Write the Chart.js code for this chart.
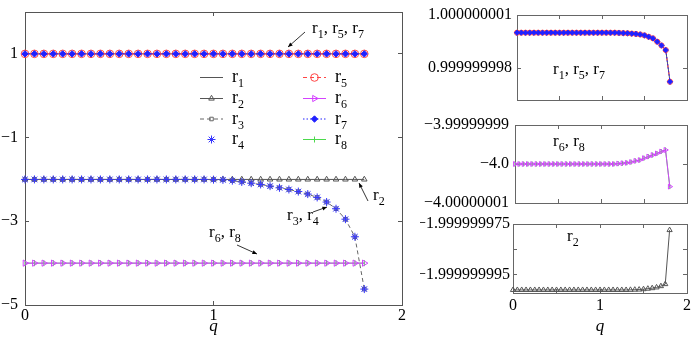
<!DOCTYPE html>
<html>
<head>
<meta charset="utf-8">
<title>r-curves vs q</title>
<script src="https://cdn.jsdelivr.net/npm/chart.js@4.4.1/dist/chart.umd.min.js"></script>
<style>
  html, body { margin: 0; padding: 0; background: #fff; }
  #wrap { position: relative; width: 692px; height: 340px; overflow: hidden; }
  .panel { position: absolute; }
</style>
</head>
<body>
<div id="wrap">
  <div class="panel" style="left:0;top:0;width:420px;height:340px"><canvas id="mainChart"></canvas></div>
  <div class="panel" style="left:420px;top:0;width:272px;height:110px"><canvas id="zoomTop"></canvas></div>
  <div class="panel" style="left:420px;top:110px;width:272px;height:110px"><canvas id="zoomMid"></canvas></div>
  <div class="panel" style="left:420px;top:210px;width:272px;height:130px"><canvas id="zoomLow"></canvas></div>
</div>
<script>
// ---- data ----
const qValues = [
  0, 0.05, 0.1, 0.15, 0.2, 0.25, 0.3, 0.35, 0.4, 0.45,
  0.5, 0.55, 0.6, 0.65, 0.7, 0.75, 0.8, 0.85, 0.9, 0.95,
  1, 1.05, 1.1, 1.15, 1.2, 1.25, 1.3, 1.35, 1.4, 1.45,
  1.5, 1.55, 1.6, 1.65, 1.7, 1.75, 1.8
];

// main panel
const r1Values = [
  1, 1, 1, 1, 1, 1, 1, 1, 1, 1,
  1, 1, 1, 1, 1, 1, 1, 1, 1, 1,
  1, 1, 1, 1, 1, 1, 1, 1, 1, 1,
  1, 1, 1, 1, 1, 1, 1
];
const r5Values = r1Values;
const r7Values = r1Values;
const r2Values = [
  -2, -2, -2, -2, -2, -2, -2, -2, -2, -2,
  -2, -2, -2, -2, -2, -2, -2, -2, -2, -2,
  -2, -2, -2, -2, -2, -2, -2, -2, -2, -2,
  -2, -2, -2, -2, -2, -2, -2
];
const r3Values = [
  -2, -2, -2, -2, -2, -2, -2, -2, -2, -2,
  -2, -2, -2, -2, -2, -2, -2, -2, -2, -2,
  -2.005, -2.01, -2.03, -2.06, -2.09, -2.12, -2.16, -2.2, -2.24, -2.29,
  -2.35, -2.43, -2.54, -2.7, -2.95, -3.37, -4.62
];
const r4Values = r3Values;
const r6Values = [
  -4, -4, -4, -4, -4, -4, -4, -4, -4, -4,
  -4, -4, -4, -4, -4, -4, -4, -4, -4, -4,
  -4, -4, -4, -4, -4, -4, -4, -4, -4, -4,
  -4, -4, -4, -4, -4, -4, -4
];
const r8Values = r6Values;

// zoomed panels
const r1Zoom = [
  1, 1, 1, 1, 1, 1, 1, 1, 1, 1,
  1, 1, 1, 1, 1, 1, 1, 1, 1, 1,
  1, 1, 1, 1, 0.99999999999, 0.99999999998, 0.99999999997, 0.99999999995, 0.99999999993, 0.9999999999,
  0.99999999985, 0.99999999977, 0.99999999968, 0.99999999949, 0.99999999928, 0.99999999902, 0.99999999723
];
const r6Zoom = [
  -4, -4, -4, -4, -4, -4, -4, -4, -4, -4,
  -4, -4, -4, -4, -4, -4, -4, -4, -4, -4,
  -4, -4, -4, -4, -3.9999999999, -3.9999999998, -3.9999999997, -3.9999999995, -3.9999999992, -3.999999999,
  -3.9999999985, -3.9999999981, -3.9999999977, -3.9999999973, -3.9999999968, -3.9999999964, -4.0000000058
];
const r2Zoom = [
  -2.000000001, -2.000000001, -2.000000001, -2.000000001, -2.000000001, -2.000000001, -2.000000001, -2.000000001, -2.000000001, -2.000000001,
  -2.000000001, -2.000000001, -2.000000001, -2.000000001, -2.000000001, -2.000000001, -2.000000001, -2.000000001, -2.000000001, -2.000000001,
  -2.000000001, -2.000000001, -2.000000001, -2.000000001, -2.000000001, -2.000000001, -2.000000001, -2.00000000095, -2.0000000009, -2.00000000085,
  -2.0000000007, -2.0000000005, -2.0000000003, -2, -1.9999999995, -1.9999999987, -1.9999999774
];

// ticks
const xTicksMain = [0, 1, 2];
const xLabelsMain = ['0', '1', '2'];
const yTicksMain = [1, -1, -3, -5];
const yLabelsMain = ['1', '\u22121', '\u22123', '\u22125'];
const xTicksZoom = [0, 0.5, 1, 1.5, 2];
const xLabelsZoom = ['0', '', '1', '', '2'];
const yTicksTop = [1.000000001, 0.999999998];
const yLabelsTop = ['1.000000001', '0.999999998'];
const yTicksMid = [-3.99999999, -4, -4.00000001];
const yLabelsMid = ['\u22123.99999999', '\u22124.0', '\u22124.00000001'];
const yTicksLow = [-1.999999975, -1.999999985, -1.999999995];
const yLabelsLow = ['\u22121.999999975', '', '\u22121.999999995'];

// ---- styles ----
const FONT = "'Liberation Serif', 'DejaVu Serif', serif";
Chart.defaults.font.family = FONT;

const STYLE = {
  r1: { color: '#555', dash: [] },
  r2: { color: '#555', dash: [], marker: 'triangle', radius: 3.2 },
  r3: { color: '#666', dash: [4, 3], marker: 'rect', radius: 2.5 },
  r4: { color: '#3535ff', line: false, marker: 'star', radius: 4 },
  r5: { color: '#ff4545', dash: [4, 3], marker: 'circle', radius: 3.8 },
  r6: { color: '#d442ff', dash: [], marker: 'triangle', rotation: 90, radius: 3.6 },
  r7: { color: '#2020ff', dash: [1.5, 2], marker: 'rectRot', radius: 3.2, fill: '#2020ff' },
  r8: { color: '#4cd94c', dash: [], marker: 'line', rotation: 90, radius: 3 }
};

function points(ys) {
  return qValues.map((q, i) => ({ x: q, y: ys[i] }));
}

function series(name, ys, order, radius) {
  const st = STYLE[name];
  return {
    label: name,
    data: points(ys),
    order: order,
    borderColor: st.color,
    borderWidth: 1,
    borderDash: st.dash || [],
    showLine: st.line !== false,
    pointStyle: st.marker || 'circle',
    pointRadius: st.marker ? (radius || st.radius) : 0,
    pointRotation: st.rotation || 0,
    pointBorderColor: st.color,
    pointBackgroundColor: st.fill || 'rgba(0,0,0,0)',
    pointBorderWidth: 1,
    tension: 0,
    clip: 8
  };
}

function fixedTicks(values) {
  return scale => { scale.ticks = values.map(v => ({ value: v })); };
}

// fixed axis size, and no extra label overhang padding
function fitTo(size) {
  return s => {
    if (s.isHorizontal()) s.height = size; else s.width = size;
    s.paddingTop = 0; s.paddingBottom = 0; s.paddingLeft = 0; s.paddingRight = 0;
  };
}

function buildScales(c) {
  const tickFont = { family: FONT, size: 16 };
  const grid = { drawOnChartArea: false, tickLength: -4, color: c.frame, lineWidth: 1 };
  const border = { color: c.frame, width: 1 };
  return {
    x: {
      type: 'linear', position: 'bottom', min: 0, max: 2,
      afterBuildTicks: fixedTicks(c.xTicks),
      afterFit: fitTo(c.xHeight),
      ticks: {
        display: !!c.xLabels, autoSkip: false, maxRotation: 0, padding: c.xPad || 0,
        color: '#000', font: tickFont,
        callback: (v, i) => c.xLabels ? c.xLabels[i] : ''
      },
      grid, border,
      title: {
        display: !!c.showQ, text: 'q', color: '#000',
        font: { family: FONT, size: 17, style: 'italic' },
        padding: { top: 0, bottom: c.qPad || 0 }
      }
    },
    x2: {
      type: 'linear', position: 'top', min: 0, max: 2,
      afterBuildTicks: fixedTicks(c.xTicks),
      afterFit: fitTo(0),
      ticks: { display: false },
      grid, border
    },
    y: {
      type: 'linear', position: 'left', min: c.yMin, max: c.yMax,
      afterBuildTicks: fixedTicks(c.yTicks),
      afterFit: fitTo(c.yWidth),
      ticks: {
        autoSkip: false, padding: c.yPad, color: '#000', font: tickFont,
        callback: (v, i) => c.yLabels[i]
      },
      grid, border
    },
    y2: {
      type: 'linear', position: 'right', min: c.yMin, max: c.yMax,
      afterBuildTicks: fixedTicks(c.yTicks),
      afterFit: fitTo(0),
      ticks: { display: false },
      grid, border
    }
  };
}

// text with "_x" subscripts, e.g. "r_1, r_5"
function drawSubText(ctx, text, x, y, size) {
  ctx.fillStyle = '#000';
  ctx.textBaseline = 'alphabetic';
  ctx.textAlign = 'left';
  let cx = x;
  for (let i = 0; i < text.length; i++) {
    let ch = text[i];
    if (ch === '_') {
      ch = text[++i];
      ctx.font = Math.round(size * 0.68) + 'px ' + FONT;
      ctx.fillText(ch, cx, y + size * 0.3);
    } else {
      ctx.font = size + 'px ' + FONT;
      ctx.fillText(ch, cx, y);
    }
    cx += ctx.measureText(ch).width;
  }
}

function drawArrow(ctx, a) {
  const [x1, y1, x2, y2] = a;
  const ang = Math.atan2(y2 - y1, x2 - x1);
  ctx.strokeStyle = '#000';
  ctx.fillStyle = '#000';
  ctx.lineWidth = 0.8;
  ctx.setLineDash([]);
  ctx.beginPath();
  ctx.moveTo(x1, y1);
  ctx.lineTo(x2, y2);
  ctx.stroke();
  ctx.beginPath();
  ctx.moveTo(x2, y2);
  ctx.lineTo(x2 - 5 * Math.cos(ang - 0.4), y2 - 5 * Math.sin(ang - 0.4));
  ctx.lineTo(x2 - 5 * Math.cos(ang + 0.4), y2 - 5 * Math.sin(ang + 0.4));
  ctx.closePath();
  ctx.fill();
}

function drawSample(ctx, name, x1, x2, y) {
  const st = STYLE[name];
  if (st.line !== false) {
    ctx.strokeStyle = st.color;
    ctx.lineWidth = 1;
    ctx.setLineDash(st.dash || []);
    ctx.beginPath();
    ctx.moveTo(x1, y);
    ctx.lineTo(x2, y);
    ctx.stroke();
    ctx.setLineDash([]);
  }
  if (st.marker) {
    ctx.strokeStyle = st.color;
    ctx.fillStyle = st.fill || 'rgba(0,0,0,0)';
    ctx.lineWidth = 1;
    Chart.helpers.drawPoint(ctx, {
      pointStyle: st.marker, rotation: st.rotation || 0, radius: st.radius, borderWidth: 1
    }, (x1 + x2) / 2, y);
  }
}

function notes(cfg) {
  return {
    id: 'notes',
    afterDraw(chart) {
      const ctx = chart.ctx;
      ctx.save();
      (cfg.arrows || []).forEach(a => drawArrow(ctx, a));
      (cfg.texts || []).forEach(t => drawSubText(ctx, t.text, t.x, t.y, t.size || 17));
      (cfg.legend || []).forEach(it => {
        drawSample(ctx, it.name, it.x, it.x + 23, it.y);
        drawSubText(ctx, 'r_' + it.name.slice(1), it.x + 32, it.y + 4.5, 18);
      });
      ctx.restore();
    }
  };
}

function baseOptions(scales, padding) {
  return {
    animation: false,
    responsive: true,
    maintainAspectRatio: false,
    events: [],
    layout: { padding: padding, autoPadding: false },
    plugins: { legend: { display: false }, tooltip: { enabled: false } },
    scales: scales
  };
}

// ==========================================
// 1. main panel
// ==========================================
new Chart(document.getElementById('mainChart').getContext('2d'), {
  type: 'line',
  data: {
    datasets: [
      series('r7', r7Values, 1),
      series('r4', r4Values, 2),
      series('r5', r5Values, 3),
      series('r3', r3Values, 4),
      series('r2', r2Values, 5),
      series('r6', r6Values, 6),
      series('r8', r8Values, 7),
      series('r1', r1Values, 8)
    ]
  },
  options: baseOptions(buildScales({
    frame: '#555',
    xTicks: xTicksMain, xLabels: xLabelsMain, xHeight: 35, xPad: 5, showQ: true, qPad: 3,
    yMin: -5, yMax: 2, yTicks: yTicksMain, yLabels: yLabelsMain, yWidth: 25, yPad: 11
  }), { top: 12, right: 18, bottom: 0, left: 0 }),
  plugins: [notes({
    texts: [
      { text: 'r_1, r_5, r_7', x: 312, y: 33 },
      { text: 'r_2', x: 373, y: 200 },
      { text: 'r_3, r_4', x: 287, y: 220 },
      { text: 'r_6, r_8', x: 209, y: 237 }
    ],
    arrows: [
      [305, 32, 288, 47],
      [368, 201, 359, 183],
      [313, 212, 327, 207],
      [237, 245, 257, 254]
    ],
    legend: [
      { name: 'r1', x: 200, y: 77.5 },
      { name: 'r2', x: 200, y: 98.5 },
      { name: 'r3', x: 200, y: 119 },
      { name: 'r4', x: 200, y: 139.5 },
      { name: 'r5', x: 303, y: 77.5 },
      { name: 'r6', x: 303, y: 98.5 },
      { name: 'r7', x: 303, y: 119 },
      { name: 'r8', x: 303, y: 139.5 }
    ]
  })]
});

// ==========================================
// 2. zoom: r1, r5, r7
// ==========================================
new Chart(document.getElementById('zoomTop').getContext('2d'), {
  type: 'line',
  data: {
    datasets: [
      series('r7', r1Zoom, 1, 2.6),
      series('r5', r1Zoom, 2, 2.6),
      series('r1', r1Zoom, 3)
    ]
  },
  options: baseOptions(buildScales({
    frame: '#666',
    xTicks: xTicksZoom, xLabels: null, xHeight: 0,
    yMin: 0.9999999962, yMax: 1.000000001, yTicks: yTicksTop, yLabels: yLabelsTop, yWidth: 97, yPad: 9
  }), { top: 15, right: 5, bottom: 10, left: 0 }),
  plugins: [notes({ texts: [{ text: 'r_1, r_5, r_7', x: 133, y: 74 }] })]
});

// ==========================================
// 3. zoom: r6, r8
// ==========================================
new Chart(document.getElementById('zoomMid').getContext('2d'), {
  type: 'line',
  data: {
    datasets: [
      series('r6', r6Zoom, 1, 2.8),
      series('r8', r6Zoom, 2, 2.5)
    ]
  },
  options: baseOptions(buildScales({
    frame: '#666',
    xTicks: xTicksZoom, xLabels: null, xHeight: 0,
    yMin: -4.00000001, yMax: -3.99999999, yTicks: yTicksMid, yLabels: yLabelsMid, yWidth: 95, yPad: 10
  }), { top: 15, right: 5, bottom: 17, left: 0 }),
  plugins: [notes({ texts: [{ text: 'r_6, r_8', x: 133, y: 36 }] })]
});

// ==========================================
// 4. zoom: r2
// ==========================================
new Chart(document.getElementById('zoomLow').getContext('2d'), {
  type: 'line',
  data: {
    datasets: [
      series('r2', r2Zoom, 1, 3)
    ]
  },
  options: baseOptions(buildScales({
    frame: '#666',
    xTicks: xTicksZoom, xLabels: xLabelsZoom, xHeight: 47, xPad: 7, showQ: true, qPad: 3,
    yMin: -2.0000000022, yMax: -1.999999975, yTicks: yTicksLow, yLabels: yLabelsLow, yWidth: 93, yPad: 7
  }), { top: 14, right: 5, bottom: 0, left: 0 }),
  plugins: [notes({ texts: [{ text: 'r_2', x: 147, y: 31 }] })]
});
</script>
</body>
</html>
